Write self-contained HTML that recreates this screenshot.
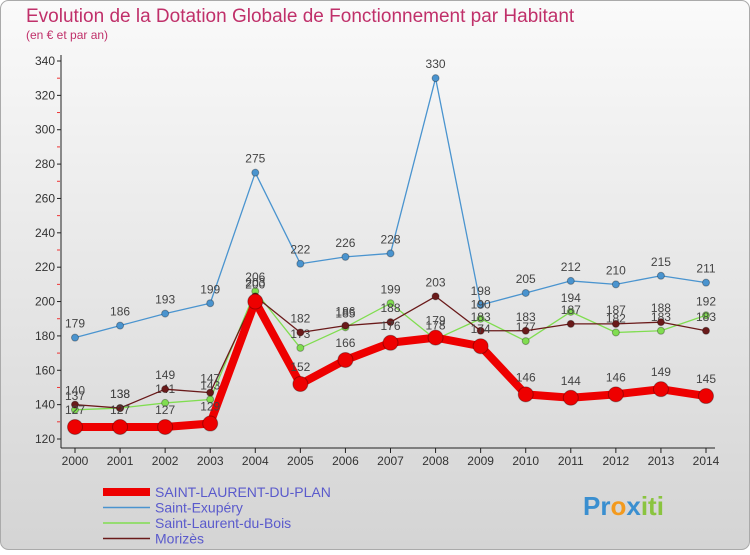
<!DOCTYPE html>
<html><head><meta charset="utf-8"><style>
body{margin:0;width:750px;height:550px;overflow:hidden;font-family:"Liberation Sans",sans-serif}
</style></head><body>
<svg width="750" height="550" xmlns="http://www.w3.org/2000/svg">
<defs><linearGradient id="bg" x1="0" y1="0" x2="0" y2="1"><stop offset="0" stop-color="#fafafa"/><stop offset="1" stop-color="#d4d4d4"/></linearGradient></defs>
<rect x="0.5" y="0.5" width="749" height="549" rx="8" fill="url(#bg)" stroke="#aaa"/>
<text x="26" y="22" font-size="19" fill="#c0306a">Evolution de la Dotation Globale de Fonctionnement par Habitant</text>
<text x="26" y="39" font-size="12" fill="#c0306a">(en € et par an)</text>
<g id="axes"></g><g id="series"></g><g id="legend"></g>
</svg>
<script>
const years=[2000,2001,2002,2003,2004,2005,2006,2007,2008,2009,2010,2011,2012,2013,2014];
const yTicks=[120,140,160,180,200,220,240,260,280,300,320,340];
const red=[127,127,127,129,200,152,166,176,179,174,146,144,146,149,145];
const blue=[179,186,193,199,275,222,226,228,330,198,205,212,210,215,211];
const green=[137,138,141,143,206,173,185,199,178,190,177,194,182,183,192];
const maroon=[140,138,149,147,203,182,186,188,203,183,183,187,187,188,183];
const NS="http://www.w3.org/2000/svg";
function X(i){return 75+i*(706-75)/14;}
function Y(v){return 439-(v-120)*(439-61)/220;}
function mk(p,tag,a){const e=document.createElementNS(NS,tag);for(const k in a)e.setAttribute(k,a[k]);p.appendChild(e);return e;}
const ax=document.getElementById('axes');
let l=mk(ax,'line',{x1:61,y1:55,x2:61,y2:448,stroke:'#222'});


l=mk(ax,'line',{x1:61,y1:448,x2:715,y2:448,stroke:'#222'});


yTicks.forEach(v=>{
  mk(ax,'line',{x1:57,y1:Y(v),x2:61,y2:Y(v),stroke:'#222'});
  if(v<340) mk(ax,'line',{x1:57,y1:Y(v+10),x2:60,y2:Y(v+10),stroke:'#e33'});
  const t=mk(ax,'text',{x:55,y:Y(v)+4,'font-size':12,'text-anchor':'end',fill:'#333'});t.textContent=v;
  
  
});
years.forEach((y,i)=>{
  mk(ax,'line',{x1:X(i),y1:448,x2:X(i),y2:453,stroke:'#222'});
  const t=mk(ax,'text',{x:X(i),y:465,'font-size':12,'text-anchor':'middle',fill:'#333'});t.textContent=y;
  
  
});
const se=document.getElementById('series');
function draw(data,color,w,r,name,labDy){
  const g=mk(se,'g',{});
  
  
  mk(g,'polyline',{points:data.map((v,i)=>X(i)+','+Y(v)).join(' '),fill:'none',stroke:color,'stroke-width':w,'stroke-linejoin':'round'});
  data.forEach((v,i)=>{
    const c=mk(g,'circle',{cx:X(i),cy:Y(v),r:r,fill:color,stroke:'rgba(0,0,0,0.3)'});
    
    
    const t=mk(g,'text',{x:X(i),y:Y(v)-labDy,'font-size':12,'text-anchor':'middle',fill:'#444'});t.textContent=v;
    
    
  });
}
draw(blue,'#4a94cf',1.3,3.5,'saint-exupery-series',10);
draw(green,'#80dd50',1.3,3.5,'saint-laurent-du-bois-series',10);
draw(maroon,'#6a1a1a',1.3,3.5,'morizes-series',10);
draw(red,'#ee0000',8,7.5,'saint-laurent-du-plan-series',13);
const lg=document.getElementById('legend');
const items=[['SAINT-LAURENT-DU-PLAN','#ee0000',8],['Saint-Exupéry','#4a94cf',1.5],['Saint-Laurent-du-Bois','#80dd50',1.5],['Morizès','#6a1a1a',1.5]];
items.forEach((it,i)=>{
  const y=492+i*15.5;
  const g=mk(lg,'g',{});
  
  
  mk(g,'line',{x1:103,y1:y,x2:150,y2:y,stroke:it[1],'stroke-width':it[2]});
  const t=mk(g,'text',{x:155,y:y+5,'font-size':14,fill:'#5a5acc'});t.textContent=it[0];
});
const lo=mk(lg,'text',{x:583,y:515,'font-size':26,'font-weight':'bold',fill:'#f39a1e'});


lo.innerHTML='<tspan fill="#3a8fd0">Pr</tspan><tspan fill="#f39a1e">o</tspan><tspan fill="#3a8fd0">x</tspan><tspan fill="#8ac43f">iti</tspan>';
</script>
</body></html>
